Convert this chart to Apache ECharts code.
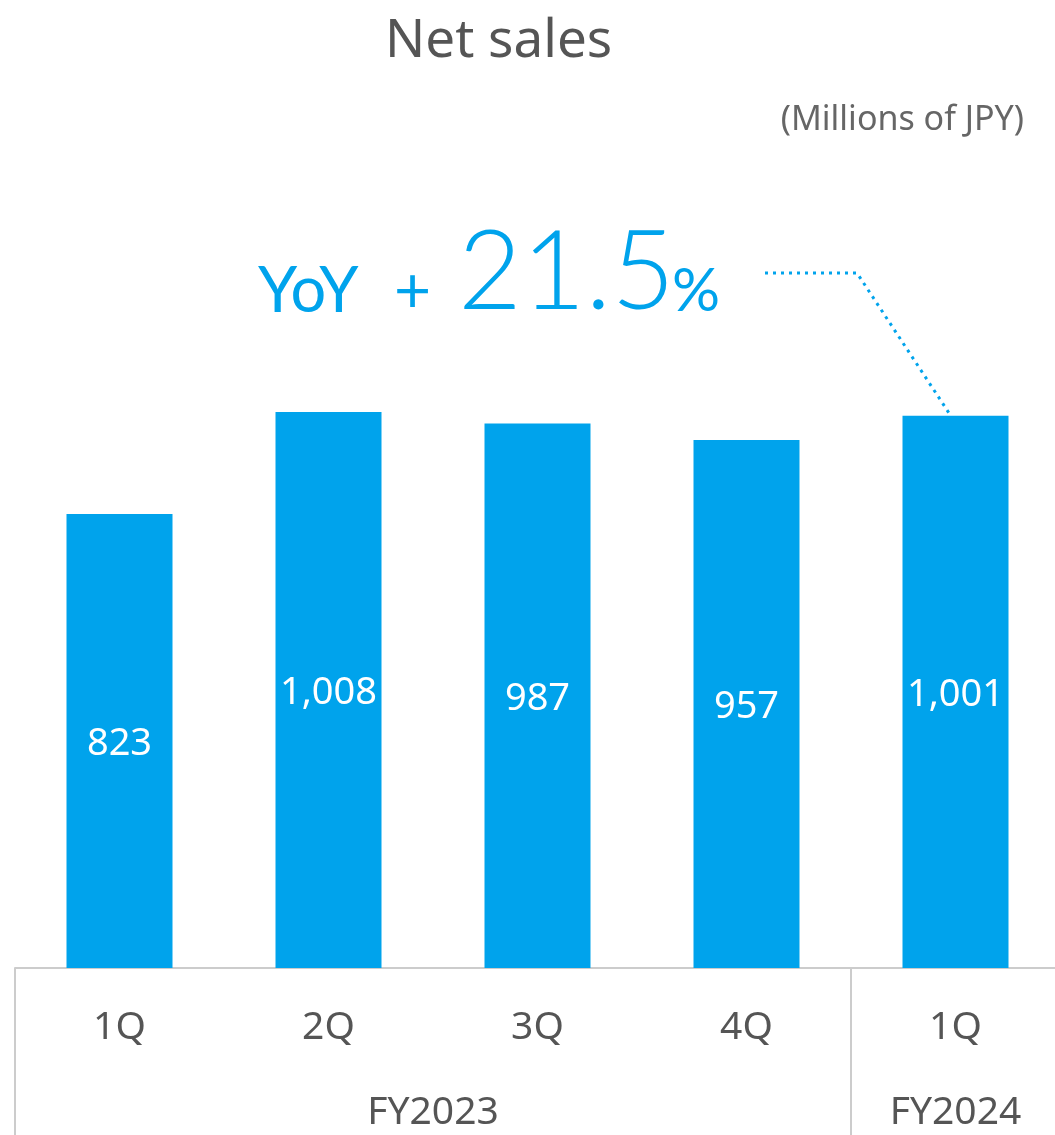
<!DOCTYPE html>
<html>
<head>
<meta charset="utf-8">
<script src="https://cdn.jsdelivr.net/npm/echarts@6/dist/echarts.min.js"></script>
<style>
html,body{margin:0;padding:0;background:#fff;}
#c{width:1055px;height:1135px;}
</style>
</head>
<body>
<div id="c"></div>
<script>
const categories = ['1Q', '2Q', '3Q', '4Q', '1Q'];
const netSales = [823, 1008, 987, 957, 1001];
const fyLabels = ['FY2023', 'FY2024'];
const fyPositions = [2, 4.5];          // centre of each fiscal-year group, in category units
const fySeparators = [0, 4];           // category boundaries where a year group starts
const yoyText = ['YoY', '+', '21.5', '%'];

const FONT = '"Noto Sans", sans-serif';
const AFONT = 'Lato, "Noto Sans", sans-serif';
const BLUE = '#00A3EC';
const GRAY = '#555555';
const LINE = '#cccccc';

const chart = echarts.init(document.getElementById('c'), null, {renderer: 'canvas'});

const option = {
  animation: false,
  backgroundColor: '#ffffff',
  textStyle: {fontFamily: FONT},
  title: [
    {text: 'Net sales', left: 380, top: 10,
     textStyle: {fontFamily: FONT, fontSize: 53, fontWeight: 'normal', color: GRAY}},
    {text: '(Millions of JPY)', right: 26, top: 98,
     textStyle: {fontFamily: FONT, fontSize: 34, fontWeight: 'normal', color: '#666666'}}
  ],
  grid: {left: 15, right: -5, top: 306, bottom: 167, containLabel: false, outerBoundsMode: 'none'},
  xAxis: [
    {
      type: 'category',
      data: categories,
      boundaryGap: true,
      axisLine: {show: true, lineStyle: {color: LINE, width: 2}},
      axisTick: {
        show: true,
        length: 170,
        lineStyle: {color: LINE, width: 2},
        interval: function (idx) { return fySeparators.indexOf(idx) >= 0; }
      },
      axisLabel: {show: true, margin: 40, fontSize: 39, color: GRAY, fontFamily: FONT},
      splitLine: {show: false}
    },
    {
      type: 'value',
      min: 0, max: 5, interval: 0.5,
      position: 'bottom',
      axisLine: {show: false},
      axisTick: {show: false},
      splitLine: {show: false},
      axisLabel: {
        show: true, margin: 125, fontSize: 39, color: GRAY, fontFamily: FONT,
        showMinLabel: true, showMaxLabel: true,
        formatter: function (v) {
          const i = fyPositions.findIndex(p => Math.abs(p - v) < 1e-6);
          return i >= 0 ? fyLabels[i] : '';
        }
      }
    }
  ],
  yAxis: {
    type: 'value', min: 0, max: 1200, show: false,
    splitLine: {show: false}
  },
  series: [{
    type: 'bar',
    xAxisIndex: 0,
    data: netSales,
    barWidth: 106,
    itemStyle: {color: BLUE},
    label: {
      show: true, position: 'inside', color: '#ffffff', fontSize: 38, fontFamily: FONT,
      offset: [0, 3],
      formatter: function (p) { return p.value.toLocaleString('en-US'); }
    }
  }]
};
chart.setOption(option);

// Annotation: YoY text and dotted leader to the latest bar
const last = netSales.length - 1;
const tip = chart.convertToPixel({seriesIndex: 0}, [last, netSales[last]]);
chart.setOption({
  graphic: [
    {type: 'text', x: 258, y: 292,
     style: {text: yoyText[0], font: '400 63px ' + AFONT, fill: BLUE, verticalAlign: 'middle', align: 'left'}},
    {type: 'text', x: 394, y: 292,
     style: {text: yoyText[1], font: '400 64px ' + AFONT, fill: BLUE, verticalAlign: 'middle', align: 'left'}},
    {type: 'text', x: 458, y: 274,
     style: {text: yoyText[2], font: '300 110px ' + AFONT, fill: BLUE, verticalAlign: 'middle', align: 'left'}},
    {type: 'text', x: 672, y: 292,
     style: {text: yoyText[3], font: '400 60px ' + AFONT, fill: BLUE, verticalAlign: 'middle', align: 'left'}},
    {type: 'polyline',
     shape: {points: [[765, 273], [857, 273], [tip[0] - 6, tip[1] - 2]]},
     style: {stroke: BLUE, lineWidth: 3, lineDash: [3, 5], fill: null}}
  ]
});
</script>
</body>
</html>
